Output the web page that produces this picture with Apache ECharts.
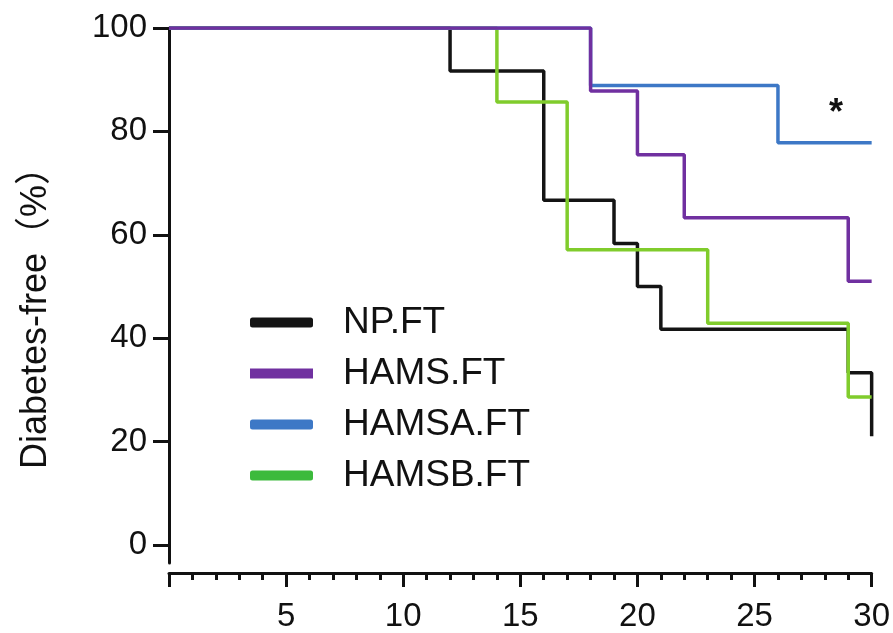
<!DOCTYPE html>
<html>
<head>
<meta charset="utf-8">
<script src="https://cdn.jsdelivr.net/npm/echarts@6/dist/echarts.min.js"></script>
<style>
  html, body { margin: 0; padding: 0; background: #fff; }
  #chart { width: 893px; height: 633px; }
</style>
</head>
<body>
<div id="chart"></div>
<script>
// group names, legend order
var groups = ['NP.FT', 'HAMS.FT', 'HAMSA.FT', 'HAMSB.FT'];
// diabetes-free curves: [week, percent], step at each event
var npFT = [[0, 100], [12, 91.7], [16, 66.7], [19, 58.3], [20, 50], [21, 41.7], [29, 33.3], [30, 21]];
var hamsFT = [[0, 100], [18, 87.8], [20, 75.5], [22, 63.3], [29, 51], [30, 51]];
var hamsaFT = [[0, 100], [18, 88.9], [26, 77.8], [30, 77.8]];
var hamsbFT = [[0, 100], [14, 85.7], [17, 57.1], [23, 42.9], [29, 28.6], [30, 28.6]];
var yTicks = [0, 20, 40, 60, 80, 100];

var lineColors = ['#141414', '#7030a0', '#3d78c6', '#80cc2c'];
var legendColors = ['#141414', '#7030a0', '#3d78c6', '#3cba3c'];
var font = "'Liberation Sans', Arial, 'Noto Sans CJK SC', sans-serif";

var myChart = echarts.init(document.getElementById('chart'));

function stepSeries(name, data, color, z) {
  return {
    name: name,
    type: 'line',
    step: 'end',
    data: data,
    symbol: 'none',
    z: z,
    lineStyle: { color: color, width: 3.5 },
    itemStyle: { color: color }
  };
}

myChart.setOption({
  backgroundColor: '#fff',
  animation: false,
  grid: { left: 169, right: 21, top: 28, bottom: 68 },
  legend: {
    orient: 'vertical',
    left: 245,
    top: 299,
    itemWidth: 63,
    itemHeight: 10,
    itemGap: 14,
    icon: 'roundRect',
    textStyle: { fontSize: 37, fontFamily: font, color: '#111', padding: [0, 0, 0, 25] },
    data: groups.map(function (g, i) {
      return { name: g, icon: i === 1 ? 'rect' : 'roundRect', itemStyle: { color: legendColors[i] } };
    })
  },
  xAxis: {
    type: 'value',
    min: 0,
    max: 30,
    interval: 5,
    offset: 10,
    axisLine: { show: true, onZero: false, lineStyle: { color: '#111', width: 3 } },
    axisTick: { show: true, length: 14, lineStyle: { color: '#111', width: 3 } },
    minorTick: { show: true, splitNumber: 5, length: 7, lineStyle: { color: '#111', width: 3 } },
    splitLine: { show: false },
    axisLabel: {
      fontSize: 33, fontFamily: font, color: '#111', margin: 27,
      formatter: function (v) { return v === 0 ? '' : v; }
    }
  },
  yAxis: {
    type: 'value',
    min: -3.5,
    max: 100,
    axisLine: { show: true, lineStyle: { color: '#111', width: 3 } },
    axisTick: { show: true, length: 16, customValues: yTicks, lineStyle: { color: '#111', width: 3 } },
    splitLine: { show: false },
    axisLabel: { fontSize: 33, fontFamily: font, color: '#111', margin: 22, customValues: yTicks }
  },
  graphic: [
    {
      type: 'text', x: 36, y: 309, rotation: Math.PI / 2,
      style: { text: 'Diabetes-free（%）', font: '36px ' + font, fill: '#111', align: 'center', verticalAlign: 'middle' }
    },
    {
      type: 'text', x: 836, y: 114,
      style: { text: '*', font: 'bold 36px ' + font, fill: '#111', align: 'center', verticalAlign: 'middle' }
    }
  ],
  series: [
    stepSeries(groups[0], npFT, lineColors[0], 2),
    stepSeries(groups[1], hamsFT, lineColors[1], 5),
    stepSeries(groups[2], hamsaFT, lineColors[2], 4),
    stepSeries(groups[3], hamsbFT, lineColors[3], 3)
  ]
});
</script>
</body>
</html>
